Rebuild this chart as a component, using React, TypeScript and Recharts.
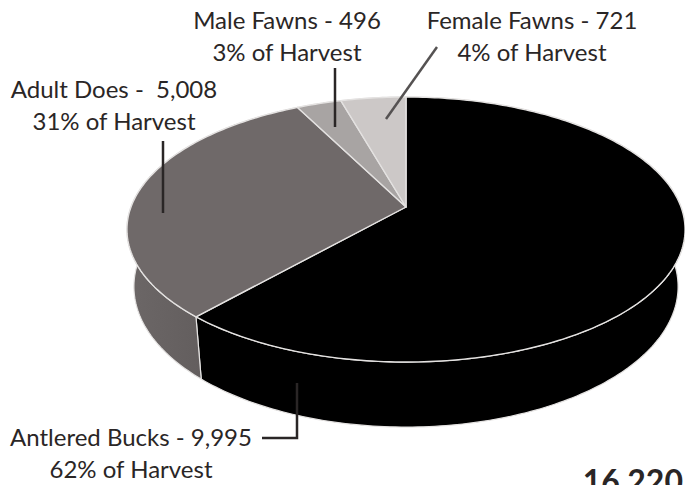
import { PieChart, Pie } from "recharts";

const labels = ["Antlered Bucks", "Adult Does", "Male Fawns", "Female Fawns"];
const harvest = [9995, 5008, 496, 721];
const topColors = ["#000000", "#6f6969", "#a8a4a3", "#ccc8c7"];
const wallColors = ["#000000", "url(#doeWall)", "#8a8686", "#a9a5a4"];

const chartData = labels.map((name, i) => ({
  name,
  value: harvest[i],
  topFill: topColors[i],
  wallFill: wallColors[i],
}));

const FONT = "Lato, 'Open Sans', sans-serif";
const INK = "#2a2626";

// perspective of the disc: far side squeezed, near side stretched
const TILT = -0.17;
const RISE = 93.5;
// the lower rim sits below and slightly inside the upper one
const RIM_SHRINK = 0.975;
const RIM_STRETCH = 1.06;
const RIM_DROP = 43.3;

function rimPoint(cx: number, cy: number, r: number, deg: number) {
  const a = (deg * Math.PI) / 180;
  const u = Math.cos(a);
  const v = -Math.sin(a);
  const w = 1 + TILT * v;
  return [cx + (r * u) / w, (RISE * v + cy) / w];
}

function arcPoints(cx: number, cy: number, r: number, start: number, end: number) {
  const steps = Math.max(2, Math.ceil(Math.abs(end - start)));
  const pts: number[][] = [];
  for (let i = 0; i <= steps; i++) {
    pts.push(rimPoint(cx, cy, r, start + ((end - start) * i) / steps));
  }
  return pts;
}

const toPath = (pts: number[][]) =>
  pts.map((p, i) => `${i ? "L" : "M"}${p[0].toFixed(2)},${p[1].toFixed(2)}`).join(" ") + " Z";

function TopSlice(props: any) {
  const { cx, cy, outerRadius, startAngle, endAngle, payload } = props;
  const pts = [[cx, cy], ...arcPoints(cx, cy, outerRadius, startAngle, endAngle)];
  return <path d={toPath(pts)} fill={payload.topFill} stroke="#e4e2e1" strokeWidth={1.4} strokeLinejoin="round" />;
}

function WallSlice(props: any) {
  const { cx, cy, outerRadius, startAngle, endAngle, payload } = props;
  const upper = arcPoints(cx, cy, outerRadius, startAngle, endAngle);
  const lower = upper
    .map((p) => [cx + (p[0] - cx) * RIM_SHRINK, p[1] * RIM_STRETCH + RIM_DROP])
    .reverse();
  return <path d={toPath([...upper, ...lower])} fill={payload.wallFill} stroke="#e4e2e1" strokeWidth={1.2} />;
}

function Caption({ x, y, lines }: { x: number; y: number; lines: string[] }) {
  return (
    <text x={x} textAnchor="middle" fontFamily={FONT} fontSize={24} fill={INK}>
      {lines.map((line, i) => (
        <tspan key={line} x={x} y={y + i * 32} xmlSpace="preserve">
          {line}
        </tspan>
      ))}
    </text>
  );
}

export default function App() {
  return (
    <div style={{ position: "absolute", left: 0, top: 0, width: 685, height: 485, overflow: "hidden", background: "#fff" }}>
      <PieChart width={685} height={485} margin={{ top: 0, right: 0, bottom: 0, left: 0 }}>
        <defs>
          <linearGradient id="doeWall" x1="0" y1="0" x2="1" y2="0">
            <stop offset="0%" stopColor="#6c6767" />
            <stop offset="100%" stopColor="#575252" />
          </linearGradient>
        </defs>
        <Pie
          data={chartData}
          dataKey="value"
          cx={406}
          cy={207}
          outerRadius={275}
          startAngle={90}
          endAngle={-270}
          shape={WallSlice}
          isAnimationActive={false}
        />
        <Pie
          data={chartData}
          dataKey="value"
          cx={406}
          cy={207}
          outerRadius={275}
          startAngle={90}
          endAngle={-270}
          shape={TopSlice}
          isAnimationActive={false}
        />
      </PieChart>
      <svg width={685} height={485} style={{ position: "absolute", left: 0, top: 0, pointerEvents: "none" }}>
        <g fill="none" strokeWidth={2.5}>
          <path d="M335 68 V127" stroke="#2a2626" />
          <path d="M437 47 L386 119" stroke="#555252" />
          <path d="M163 141 V213" stroke="#2a2626" />
          <path d="M297 383 V438 H262" stroke="#2a2626" />
        </g>
        <Caption x={287} y={29} lines={["Male Fawns - 496", "3% of Harvest"]} />
        <Caption x={532} y={29} lines={["Female Fawns - 721", "4% of Harvest"]} />
        <Caption x={114} y={98} lines={["Adult Does -  5,008", "31% of Harvest"]} />
        <Caption x={131} y={446} lines={["Antlered Bucks - 9,995"]} />
        <Caption x={131} y={478} lines={["62% of Harvest"]} />
        <text x={683} y={493} textAnchor="end" fontFamily={FONT} fontSize={32} fontWeight={700} fill={INK}>
          16,220
        </text>
      </svg>
    </div>
  );
}
